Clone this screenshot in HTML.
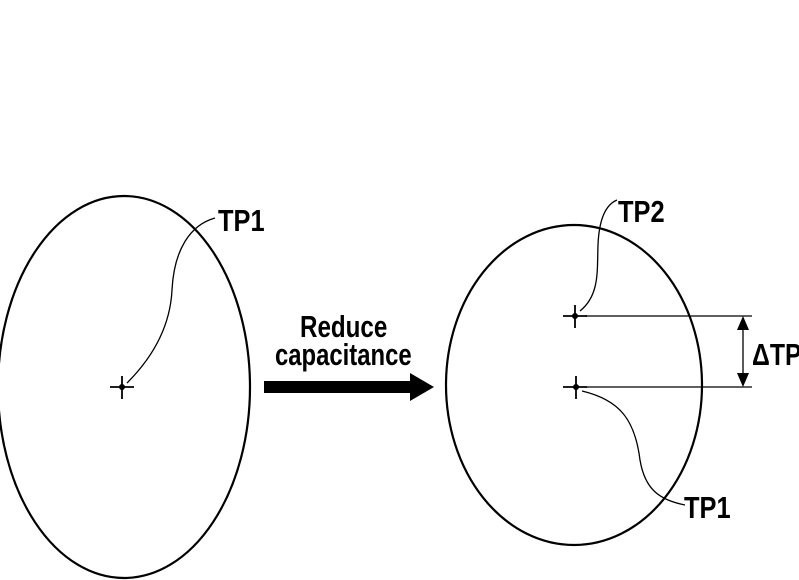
<!DOCTYPE html>
<html><head><style>
html,body{margin:0;padding:0;background:#fff;}
svg{display:block;}
text{font-family:"Liberation Sans",sans-serif;fill:#000;}
</style></head><body>
<svg width="799" height="580" viewBox="0 0 799 580" xmlns="http://www.w3.org/2000/svg">
<rect width="799" height="580" fill="#fff"/>
<g fill="none" stroke="#000">
<ellipse cx="124" cy="387" rx="126" ry="191" stroke-width="2.2"/>
<ellipse cx="574" cy="385" rx="128" ry="160" stroke-width="2.2"/>
<path d="M110 387H134M122 376V399" stroke-width="1.8"/>
<path d="M563 316H587M575 305V328" stroke-width="1.8"/>
<path d="M563 387H587M576 376V399" stroke-width="1.8"/>
<path d="M127 383C150 360 170 330 172 290C174 250 190 225 215 218" stroke-width="1.3"/>
<path d="M580 311C600 295 597 270 598 245C599 220 605 205 617 200" stroke-width="1.3"/>
<path d="M582 391C620 400 635 420 640 460C645 490 660 500 685 505" stroke-width="1.3"/>
<path d="M585 316H752M585 387H752M743 320V384" stroke-width="1.3"/>
</g>
<circle cx="122" cy="387" r="3"/>
<circle cx="575" cy="316" r="3"/>
<circle cx="576" cy="387" r="3"/>
<path d="M743 316L737 330H749Z M743 387L737 373H749Z"/>
<path d="M264 381H410V373L434 387L410 401V393H264Z"/>
<g font-size="31" font-weight="bold">
<text x="0" y="0" transform="translate(218 231) scale(0.82 1)">TP1</text>
<text x="0" y="0" transform="translate(618 222) scale(0.82 1)">TP2</text>
<text x="0" y="0" transform="translate(684 518) scale(0.82 1)">TP1</text>
<text x="0" y="0" transform="translate(752 365) scale(0.8 1)">ΔTP</text>
</g>
<g font-size="31" font-weight="bold">
<text x="0" y="0" transform="translate(300 337) scale(0.78 1)">Reduce</text>
<text x="0" y="0" transform="translate(275 365) scale(0.77 1)">capacitance</text>
</g>
</svg>
</body></html>
